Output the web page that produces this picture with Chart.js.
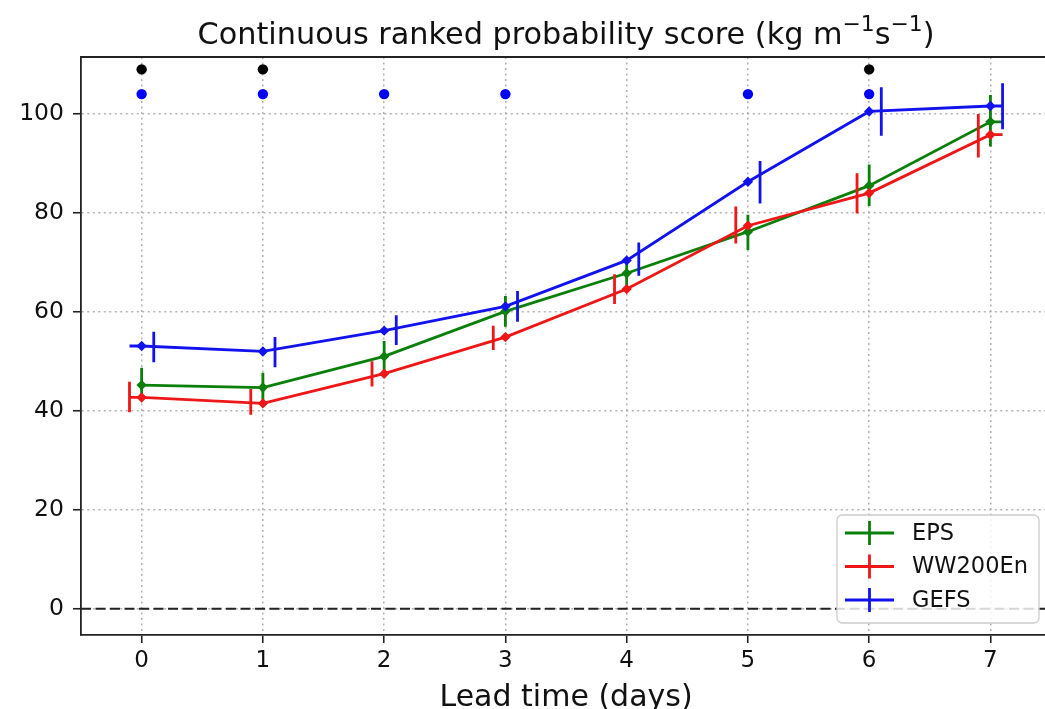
<!DOCTYPE html>
<html><head><meta charset="utf-8">
<script src="https://cdn.jsdelivr.net/npm/chart.js@4.4.1/dist/chart.umd.min.js"></script>
<style>html,body{margin:0;padding:0;background:#fff;}canvas{display:block;}</style>
</head><body>
<canvas id="c" width="1045" height="709"></canvas>
<script>
// ---------------- data ----------------
const leadTimes = [0, 1, 2, 3, 4, 5, 6, 7];
const xTicks = [0, 1, 2, 3, 4, 5, 6, 7];
const yTicks = [0, 20, 40, 60, 80, 100];

const epsMean = [45.2, 44.7, 51.0, 60.1, 67.8, 76.2, 85.5, 98.4];
const epsLow  = [42.0, 41.7, 48.0, 57.0, 64.3, 72.5, 81.4, 93.4];
const epsHigh = [48.7, 47.7, 54.1, 63.2, 71.0, 79.6, 89.8, 103.8];

const wwMean = [42.7, 41.5, 47.5, 54.9, 64.6, 77.4, 84.0, 95.8];
const wwLow  = [39.7, 39.2, 44.9, 52.3, 61.6, 73.8, 79.9, 91.2];
const wwHigh = [45.9, 44.4, 50.0, 57.2, 67.6, 81.3, 88.0, 100.0];

const gefsMean = [53.1, 52.0, 56.2, 61.1, 70.4, 86.3, 100.5, 101.6];
const gefsLow  = [49.8, 48.8, 53.3, 58.0, 67.3, 81.9, 95.6, 96.9];
const gefsHigh = [56.0, 54.9, 59.3, 64.2, 74.0, 90.5, 105.4, 106.2];

const sigBlackDays = [0, 1, 6];
const sigBlackLevel = 109;
const sigBlueDays = [0, 1, 2, 3, 5, 6];
const sigBlueLevel = 104;

const seriesNames = ['EPS', 'WW200En', 'GEFS'];
const titleParts = [
  {text: 'Continuous ranked probability score (kg m'},
  {text: '\u22121', sup: true},
  {text: 's'},
  {text: '\u22121', sup: true},
  {text: ')'}
];
const xLabelText = 'Lead time (days)';

// ---------------- styles / layout ----------------
const FONT = '"DejaVu Sans", "Liberation Sans", sans-serif';
const COLORS = ['#0a7f0a', '#ee1616', '#1212ee'];
const ERR_OFFSET = [0, -0.1, 0.1];        // horizontal shift of the error bars
const LINE_START_EXT = [0, -0.1, -0.1];   // small stub before the first point
const LINE_END_EXT = [0.1, 0.1, 0.1];     // small stub after the last point
const X_FULL = [-0.5, 7.5];               // full axes span (right part is cut by the image edge)
const X_VISIBLE_MAX = 7.45;

const means = [epsMean, wwMean, gefsMean];
const lows = [epsLow, wwLow, gefsLow];
const highs = [epsHigh, wwHigh, gefsHigh];

function lineData(vals, k) {
  const pts = leadTimes.map((t, i) => ({x: t, y: vals[i]}));
  const first = pts[0], last = pts[pts.length - 1];
  const out = [];
  if (LINE_START_EXT[k] !== 0) out.push({x: first.x + LINE_START_EXT[k], y: first.y, stub: true});
  out.push(...pts);
  if (LINE_END_EXT[k] !== 0) out.push({x: last.x + LINE_END_EXT[k], y: last.y, stub: true});
  return out;
}
function errData(lo, hi, off) {
  const out = [];
  leadTimes.forEach((t, i) => {
    out.push({x: t + off, y: lo[i]}, {x: t + off, y: hi[i]}, {x: t + off, y: null});
  });
  return out;
}

const datasets = [];
for (let k = 0; k < 3; k++) {
  datasets.push({
    label: seriesNames[k],
    data: lineData(means[k], k),
    borderColor: COLORS[k], backgroundColor: COLORS[k],
    borderWidth: 2.8, pointStyle: 'rectRot',
    pointRadius: c => (c.raw && c.raw.stub) ? 0 : 5.2,
    pointBorderWidth: 0, tension: 0, order: 3 - k
  });
  datasets.push({
    label: seriesNames[k] + ' err',
    data: errData(lows[k], highs[k], ERR_OFFSET[k]),
    borderColor: COLORS[k], borderWidth: 2.8, pointRadius: 0,
    spanGaps: false, order: 3 - k
  });
}
datasets.push({
  label: 'sigBlack', type: 'scatter',
  data: sigBlackDays.map(d => ({x: d, y: sigBlackLevel})),
  backgroundColor: '#000', borderWidth: 0, pointRadius: 5.2, order: 0
});
datasets.push({
  label: 'sigBlue', type: 'scatter',
  data: sigBlueDays.map(d => ({x: d, y: sigBlueLevel})),
  backgroundColor: '#0000ff', borderWidth: 0, pointRadius: 5.2, order: 0
});

function drawRichCentered(ctx, parts, cx, baseY, size) {
  const supSize = size * 0.72;
  let total = 0;
  parts.forEach(p => {
    ctx.font = (p.sup ? supSize : size) + 'px ' + FONT;
    p.w = ctx.measureText(p.text).width;
    total += p.w;
  });
  let x = cx - total / 2;
  ctx.textAlign = 'left'; ctx.textBaseline = 'alphabetic';
  parts.forEach(p => {
    ctx.font = (p.sup ? supSize : size) + 'px ' + FONT;
    ctx.fillText(p.text, x, p.sup ? baseY - size * 0.42 : baseY);
    x += p.w;
  });
}

const decorPlugin = {
  id: 'decor',
  beforeDatasetsDraw(chart) {
    const {ctx, chartArea: a, scales: {y}} = chart;
    const y0 = y.getPixelForValue(0);
    ctx.save();
    ctx.strokeStyle = '#222'; ctx.lineWidth = 2.2; ctx.setLineDash([10, 4.5]);
    ctx.beginPath(); ctx.moveTo(a.left, y0); ctx.lineTo(a.right, y0); ctx.stroke();
    ctx.restore();
  },
  afterDraw(chart) {
    const {ctx, chartArea: a, scales: {x}} = chart;
    ctx.save();
    ctx.strokeStyle = '#222'; ctx.lineWidth = 1.8;
    ctx.beginPath(); ctx.moveTo(a.left, a.top); ctx.lineTo(a.right, a.top); ctx.stroke();
    const cx = x.getPixelForValue((X_FULL[0] + X_FULL[1]) / 2);
    ctx.fillStyle = '#111';
    drawRichCentered(ctx, titleParts, cx, 44, 30.3);
    ctx.textAlign = 'center'; ctx.textBaseline = 'alphabetic';
    ctx.font = '30px ' + FONT;
    ctx.fillText(xLabelText, cx, 706);
    // legend
    const bx = 837, by = 515, bw = 202, bh = 108;
    ctx.fillStyle = 'rgba(255,255,255,0.82)';
    ctx.strokeStyle = '#cccccc'; ctx.lineWidth = 1.3;
    ctx.beginPath();
    if (ctx.roundRect) ctx.roundRect(bx, by, bw, bh, 5); else ctx.rect(bx, by, bw, bh);
    ctx.fill(); ctx.stroke();
    ctx.font = '22.5px ' + FONT; ctx.textAlign = 'left'; ctx.textBaseline = 'middle';
    for (let k = 0; k < 3; k++) {
      const ly = 533 + k * 33.5;
      ctx.strokeStyle = COLORS[k]; ctx.lineWidth = 2.8;
      ctx.beginPath(); ctx.moveTo(845, ly); ctx.lineTo(894, ly); ctx.stroke();
      ctx.beginPath(); ctx.moveTo(869.5, ly - 12); ctx.lineTo(869.5, ly + 12); ctx.stroke();
      ctx.fillStyle = '#111';
      ctx.fillText(seriesNames[k], 912, ly + 1);
    }
    ctx.restore();
  }
};

const gridCommon = {
  color: 'rgba(165,165,165,0.85)', lineWidth: 1.5,
  tickLength: 8, tickColor: '#222', tickWidth: 1.6, tickBorderDash: []
};

new Chart(document.getElementById('c'), {
  type: 'line',
  data: {datasets},
  options: {
    responsive: false, animation: false, devicePixelRatio: 1,
    layout: {autoPadding: false, padding: {top: 57, right: 0, left: 0, bottom: 0}},
    plugins: {legend: {display: false}, title: {display: false}, tooltip: {enabled: false}},
    scales: {
      x: {
        type: 'linear', min: X_FULL[0], max: X_VISIBLE_MAX,
        afterBuildTicks: s => { s.ticks = xTicks.map(v => ({value: v})); },
        afterFit: s => { s.height = 74; },
        grid: gridCommon,
        border: {display: true, color: '#222', width: 1.8, dash: [2, 3.5]},
        ticks: {color: '#111', font: {family: FONT, size: 23}, padding: 4, maxRotation: 0,
                callback: v => String(v)}
      },
      y: {
        type: 'linear', min: -5.3, max: 111.5,
        afterBuildTicks: s => { s.ticks = yTicks.map(v => ({value: v})); },
        afterFit: s => { s.width = 81; },
        grid: gridCommon,
        border: {display: true, color: '#222', width: 1.8, dash: [2, 3.5]},
        ticks: {color: '#111', font: {family: FONT, size: 23.5}, padding: 9,
                callback: v => String(v)}
      }
    }
  },
  plugins: [decorPlugin]
});
</script>
</body></html>
